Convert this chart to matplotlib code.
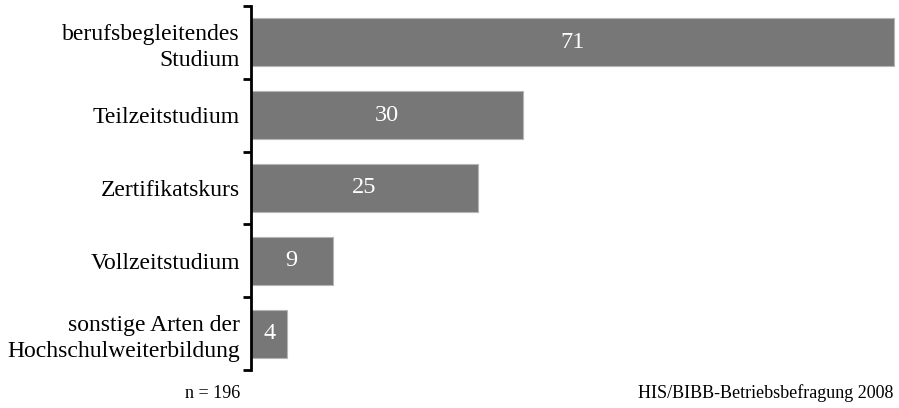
import matplotlib.pyplot as plt

categories = ['berufsbegleitendes\nStudium', 'Teilzeitstudium', 'Zertifikatskurs',
              'Vollzeitstudium', 'sonstige Arten der\nHochschulweiterbildung']
values = [71, 30, 25, 9, 4]
n_label = 'n = 196'
source = 'HIS/BIBB-Betriebsbefragung 2008'

plt.rcParams['font.family'] = ['Liberation Serif', 'DejaVu Serif']

fig = plt.figure(figsize=(8.99, 4.08), dpi=100)
ax = fig.add_axes([251 / 899, 1 - 370 / 408, 648 / 899, 364 / 408])

ypos = list(range(len(values)))
ax.barh(ypos, values, height=0.66, color='#777777', edgecolor='#b5b5b5', linewidth=0.8)
ax.set_ylim(len(values) - 0.5, -0.5)
ax.set_xlim(0, 71.5)

for y, v in zip(ypos, values):
    ax.text(v / 2, y, str(v), color='white', fontsize=17.5, ha='center', va='center')

# category labels centred on each band, ticks on the boundaries
ax.set_yticks(ypos)
ax.set_yticklabels(categories, fontsize=17, linespacing=1.3)
ax.tick_params(axis='y', which='major', length=0, pad=8)
ax.set_yticks([i - 0.5 for i in range(len(values) + 1)], minor=True)
ax.tick_params(axis='y', which='minor', length=6, width=2, direction='out', color='black')
for lbl in ax.get_yticklabels():
    lbl.set_horizontalalignment('right')

ax.set_xticks([])
for side in ['top', 'right', 'bottom']:
    ax.spines[side].set_visible(False)
ax.spines['left'].set_linewidth(2)

fig.text(240 / 899, 1 - 393 / 408, n_label, fontsize=13, ha='right', va='center')
fig.text(893 / 899, 1 - 393 / 408, source, fontsize=13, ha='right', va='center')

fig.savefig('out.png', dpi=100)
